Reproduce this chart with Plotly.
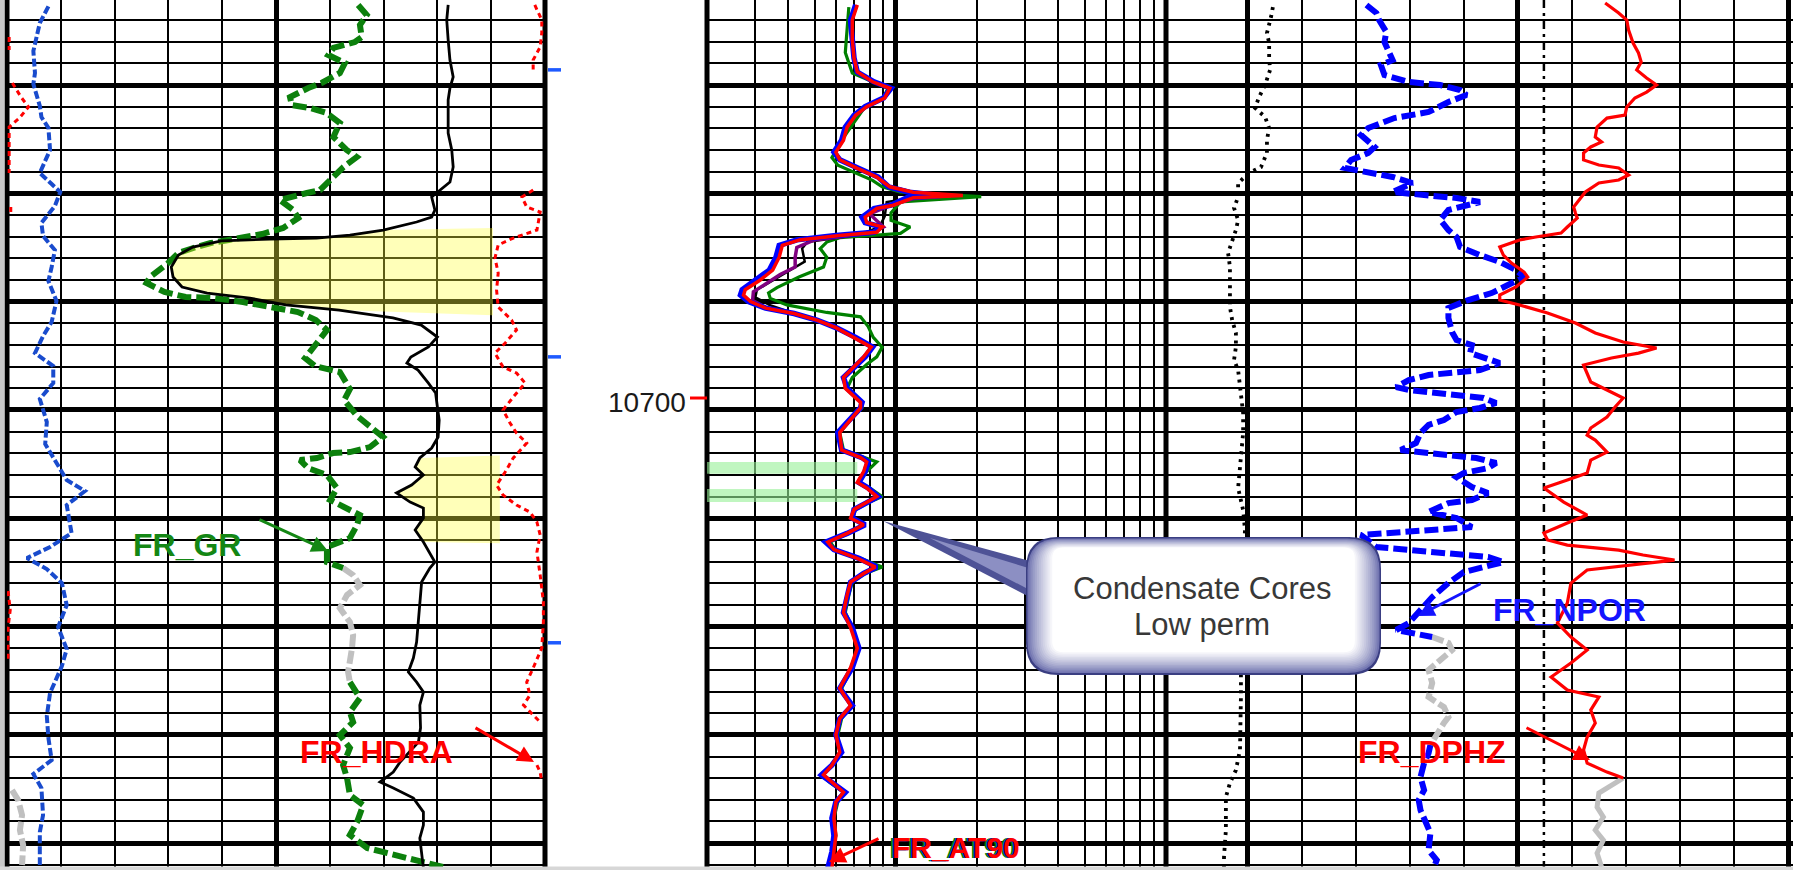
import math
import numpy as np
import plotly.graph_objects as go

W, H = 1793, 870

# ---------------- depth frame ----------------
depth_top, depth_base = 10663.25, 10743.58
grid_major_start = 10701.1          # heavy depth line every 10 ft, light every 2 ft
depth_labels = [10700]
core_marks = [10669.7, 10696.2, 10722.6]

# core intervals (green bands in resistivity track)
core_tops = [10705.9, 10708.4]
core_bases = [10707.0, 10709.6]
core_band_right = [7.2, 7.2]        # ohm.m
res_min, res_max = 2, 100

# sand intervals (yellow shading against SP)
sand_tops = [10684.3, 10705.3]
sand_bases = [10692.35, 10713.4]
sand_cutoff_sp = [35.5, 37.4]       # mV

# ---------------- track 1 curves ----------------
cali_depth = [10663.84, 10665.37, 10667.96, 10669.99, 10671.01, 10673.04, 10674.05, 10675.07, 10677.10, 10679.22,
              10680.24, 10680.98, 10682.27, 10683.84, 10685.04, 10686.34, 10687.90, 10689.20, 10691.04, 10692.98,
              10694.28, 10695.85, 10697.05, 10698.62, 10700.09, 10702.22, 10704.25, 10705.82, 10707.57, 10708.59,
              10709.88, 10712.47, 10713.76, 10714.78, 10715.79, 10717.08, 10719.12, 10721.15, 10723.18, 10724.75,
              10727.24, 10729.37, 10731.40, 10733.43, 10734.72, 10736.01, 10738.51, 10740.08, 10743.12]
cali_in = [6.77, 6.61, 6.49, 6.52, 6.49, 6.61, 6.64, 6.77, 6.80, 6.61,
           6.83, 6.99, 6.89, 6.64, 6.67, 6.89, 6.83, 6.77, 6.92, 6.83,
           6.67, 6.52, 6.86, 6.86, 6.61, 6.74, 6.71, 6.89, 7.11, 7.45,
           7.11, 7.20, 6.80, 6.37, 6.74, 7.02, 7.11, 6.95, 7.11, 7.02,
           6.80, 6.74, 6.77, 6.83, 6.49, 6.64, 6.67, 6.61, 6.61]

hdra_depth = [10663.71, 10665.10, 10666.30, 10667.59, 10668.79, 10669.90, None, 10680.80, 10681.44, 10682.36,
              10682.83, 10684.49, 10684.95, 10685.23, 10685.87, 10687.07, 10688.46, 10690.03, 10691.60, 10692.80,
              10693.72, 10694.92, 10695.85, 10697.14, 10697.69, 10698.62, 10699.91, 10701.11, 10702.31, 10703.23,
              10704.16, 10705.54, 10706.83, 10708.04, 10708.96, 10709.88, 10710.53, 10711.45, 10712.65, 10714.22,
              10716.35, 10718.84, 10720.69, 10723.09, 10724.93, 10726.23, 10727.43, 10728.35, 10729.27, 10729.92,
              None, 10733.89, 10734.54, 10735.46]
hdra_gcc = [0.231, 0.244, 0.244, 0.241, 0.228, 0.228, None, 0.228, 0.207, 0.216,
            0.241, 0.235, 0.210, 0.191, 0.163, 0.157, 0.163, 0.160, 0.163, 0.188,
            0.197, 0.176, 0.157, 0.172, 0.197, 0.213, 0.191, 0.172, 0.185, 0.197,
            0.216, 0.191, 0.176, 0.160, 0.172, 0.197, 0.222, 0.235, 0.241, 0.235,
            0.241, 0.247, 0.247, 0.244, 0.228, 0.216, 0.222, 0.210, 0.228, 0.241,
            None, 0.235, 0.241, 0.244]
hdra_wrap_depth = [10666.67, 10667.87, None, 10670.91, 10672.21, 10673.13, 10674.15, 10674.98, 10676.18, 10677.38,
                   10679.22, None, 10682.36, 10683.10, None, 10717.82, 10719.58, 10721.15, 10722.63, 10724.19]
hdra_wrap_gcc = [0.254, 0.254, None, 0.260, 0.276, 0.290, 0.273, 0.254, 0.254, 0.254,
                 0.254, None, 0.257, 0.257, None, 0.252, 0.256, 0.252, 0.252, 0.252]

gr_depth = [10663.71, 10664.64, 10665.56, 10666.67, 10667.13, 10667.68, 10668.33, 10669.07, 10669.99, 10670.91,
            10671.38, 10672.21, 10672.95, 10673.22, 10673.68, 10674.61, 10675.90, 10677.10, 10677.75, 10678.67,
            10679.59, 10680.79, 10681.07, 10681.72, 10682.64, 10683.38, 10684.30, 10684.86, 10685.41, 10685.69,
            10686.06, 10686.61, 10687.54, 10688.83, 10689.38, 10690.21, 10690.67, 10690.77, 10691.14, 10691.60,
            10692.06, 10692.80, 10693.72, 10694.92, 10696.31, 10697.05, 10697.60, 10699.17, 10700.19, 10701.66,
            10702.68, 10703.60, 10704.53, 10704.99, 10705.08, 10705.54, 10705.73, 10706.47, 10707.11, 10708.31,
            10709.42, 10710.07, 10710.81, 10711.73, 10712.93, 10713.76, 10715.15, 10715.70, None, 10726.23,
            10727.70, 10729.00, 10729.92, 10731.12, 10732.32, 10733.89, 10735.09, 10736.66, 10737.58, 10739.15,
            10740.35, 10741.55, 10741.92, 10742.38, 10742.85, 10743.31]
gr_api = [97.9, 100.3, 98.4, 98.9, 97.0, 91.0, 89.6, 94.2, 92.8, 87.7,
          84.0, 78.9, 79.4, 84.5, 89.1, 92.8, 91.0, 94.7, 97.5, 93.8,
          91.0, 87.3, 83.6, 76.1, 79.8, 81.2, 77.0, 71.1, 61.8, 56.8,
          52.8, 47.8, 44.9, 39.9, 38.9, 43.9, 49.8, 57.8, 65.8, 73.7,
          81.1, 86.1, 89.2, 86.4, 83.1, 85.9, 92.8, 95.6, 94.0, 97.6,
          101.5, 104.8, 101.2, 95.6, 90.9, 86.4, 81.7, 83.9, 89.2, 92.0,
          90.1, 93.7, 98.4, 97.6, 95.6, 89.2, 89.2, 93.7, None, 95.6,
          98.4, 95.6, 96.5, 92.8, 95.6, 93.7, 94.8, 95.6, 99.3, 97.6,
          95.6, 100.4, 104.8, 110.4, 115.1, 121.6]
gr_repeat_depth = [10715.70, 10716.35, 10717.27, 10718.19, 10719.39, 10720.69, 10721.89, 10723.09, 10725.30, 10726.23,
                   None, 10736.20, 10737.12, 10738.51, 10739.89, 10741.28, 10743.12]
gr_repeat_api = [93.7, 96.5, 98.4, 94.8, 92.8, 95.6, 96.5, 96.2, 95.1, 95.6,
                 None, 1.4, 3.1, 4.2, 3.6, 4.5, 4.2]

sp_depth = [10663.71, 10665.10, 10666.94, 10668.79, 10670.36, 10671.38, 10672.48, 10674.05, 10675.53, 10677.10,
            10678.67, 10680.06, 10680.79, 10681.44, 10682.64, 10683.29, 10683.75, 10684.49, 10684.95, 10685.23,
            10685.32, 10685.50, 10686.06, 10686.80, 10687.90, 10688.83, 10689.75, 10690.31, 10690.77, 10691.41,
            10691.88, 10692.61, 10693.26, 10694.37, 10695.29, 10696.21, 10696.77, 10697.42, 10698.62, 10699.54,
            10700.83, 10702.03, 10703.60, 10704.62, 10705.54, 10706.37, 10707.11, 10708.04, 10708.77, 10709.61,
            10710.16, 10711.08, 10712.19, 10713.30, 10715.15, 10715.70, 10716.99, 10718.84, 10720.69, 10722.53,
            10724.01, 10725.30, 10726.23, 10727.15, 10728.35, 10730.47, 10731.77, 10733.61, 10734.54, 10735.46,
            10736.01, 10736.94, 10738.23, 10739.43, 10740.63, 10741.92, 10743.40]
sp_mv = [23.0, 22.6, 23.0, 23.5, 24.4, 23.5, 23.0, 23.0, 23.0, 24.0,
         24.4, 23.5, 20.7, 18.4, 19.3, 18.4, 14.2, 4.9, -4.4, -13.7,
         -26.7, -40.2, -48.2, -52.2, -54.2, -53.7, -51.2, -44.2, -32.3, -22.3,
         -7.4, 7.6, 15.5, 20.0, 17.5, 12.6, 11.5, 14.6, 17.5, 19.5,
         20.0, 20.5, 20.2, 18.4, 15.1, 13.8, 16.1, 12.8, 8.6, 12.4,
         16.1, 16.1, 13.8, 16.1, 19.3, 17.9, 15.6, 15.1, 14.7, 14.2,
         13.3, 11.9, 14.2, 16.1, 15.1, 15.3, 14.7, 9.6, 7.7, 4.0,
         7.7, 13.3, 16.1, 16.1, 15.1, 15.6, 16.1]

# ---------------- track 2: resistivity ----------------
at_depth = [10663.7, 10665.1, 10666.9, 10668.6, 10669.9, 10670.8, 10671.4, 10672.3, 10673.1, 10673.9,
            10675.0, 10676.2, 10677.3, 10678.0, 10678.8, 10679.6, 10680.5, 10681.0, 10681.3, 10681.5,
            10682.2, 10682.5, 10683.3, 10683.8, 10684.2, 10684.7, 10685.0, 10685.4, 10685.9, 10687.0,
            10688.2, 10689.1, 10690.0, 10690.5, 10691.1, 10691.7, 10692.2, 10692.8, 10693.5, 10694.4,
            10695.3, 10696.2, 10697.1, 10698.1, 10699.1, 10700.4, 10700.9, 10701.8, 10703.2, 10704.8,
            10705.5, 10705.9, 10706.8, 10707.8, 10708.3, 10709.1, 10709.6, 10710.3, 10711.1, 10711.7,
            10712.5, 10713.3, 10714.0, 10714.8, 10715.6, 10716.2, 10717.0, 10718.2, 10719.8, 10721.2,
            10723.1, 10724.9, 10726.8, 10728.4, 10729.6, 10731.1, 10732.7, 10733.9, 10734.8, 10735.5,
            10736.4, 10737.3, 10738.8, 10740.4, 10741.9, 10743.4]
at90 = [7.2, 6.9, 6.9, 7.0, 7.2, 8.2, 9.5, 9.1, 7.8, 7.1,
        6.6, 6.4, 6.0, 6.2, 7.2, 8.5, 9.5, 11.6, 17.7, 11.6,
        9.8, 8.5, 7.7, 7.8, 8.9, 8.5, 6.2, 4.4, 3.8, 3.7,
        3.5, 3.15, 2.77, 2.73, 2.9, 3.3, 4.2, 5.1, 6.0, 7.0,
        8.1, 7.6, 7.0, 6.4, 6.5, 7.4, 7.4, 6.9, 6.2, 6.3,
        7.4, 7.8, 7.6, 7.2, 7.8, 8.5, 7.8, 7.0, 6.8, 7.6,
        6.6, 5.6, 5.9, 7.2, 8.4, 7.6, 6.8, 6.6, 6.4, 6.8,
        7.2, 6.8, 6.2, 6.8, 6.2, 6.0, 6.2, 5.8, 5.4, 5.8,
        6.4, 6.0, 5.9, 6.0, 5.9, 5.8]
at60 = [7.1, 6.8, 6.9, 7.0, 7.2, 8.3, 9.6, 9.0, 7.7, 7.0,
        6.5, 6.3, 5.9, 6.2, 7.3, 8.6, 9.4, 11.2, 14.5, 11.0,
        9.6, 8.3, 7.5, 7.7, 8.8, 8.3, 6.0, 4.3, 3.7, 3.6,
        3.4, 3.05, 2.70, 2.66, 2.85, 3.3, 4.2, 5.1, 6.0, 7.1,
        8.2, 7.7, 7.0, 6.4, 6.6, 7.5, 7.4, 6.9, 6.1, 6.3,
        7.5, 7.9, 7.7, 7.3, 7.9, 8.6, 7.9, 7.0, 6.9, 7.7,
        6.6, 5.5, 5.9, 7.3, 8.5, 7.6, 6.8, 6.6, 6.4, 6.9,
        7.3, 6.9, 6.2, 6.9, 6.2, 6.0, 6.3, 5.8, 5.3, 5.8,
        6.5, 6.0, 5.8, 5.9, 5.8, 5.6]
at10_depth = [10663.9, 10666.0, 10668.1, 10670.0, 10670.8, 10671.4, 10672.3, 10673.1, 10675.0, 10676.2,
              10677.8, 10678.5, 10679.9, 10680.5, 10681.0, 10681.4, 10681.9, 10682.9, 10683.6, 10684.2,
              10684.8, 10685.2, 10685.6, 10686.2, 10687.0, 10687.9, 10688.8, 10689.8, 10690.3, 10690.8,
              10691.4, 10692.1, 10692.5, 10693.4, 10694.4, 10695.3, 10696.2, 10696.9, 10698.1, 10699.1,
              10700.4, 10700.9, 10701.8, 10703.2, 10704.8, 10705.5, 10705.9, 10706.8, 10707.8, 10708.3,
              10709.1, 10709.6, 10710.3, 10711.1, 10711.7, 10712.5, 10713.3, 10714.0, 10714.8, 10715.6,
              10716.2, 10717.0, 10718.2, 10719.8, 10721.2, 10723.1, 10724.9, 10726.8, 10728.4, 10729.6,
              10731.1, 10732.7, 10733.9, 10734.8, 10735.5, 10736.4, 10737.3, 10738.8, 10740.4, 10741.9, 10743.4]
at10 = [6.7, 6.6, 6.5, 6.9, 8.2, 9.35, 9.0, 7.7, 6.8, 6.3,
        5.8, 6.1, 8.2, 8.9, 10.4, 20.7, 10.4, 9.6, 9.6, 11.3,
        10.4, 6.2, 5.55, 5.25, 5.55, 5.4, 4.4, 3.63, 3.38, 3.43,
        3.95, 5.55, 7.4, 7.9, 8.25, 8.9, 8.5, 7.8, 6.9, 6.6,
        7.5, 7.5, 6.9, 6.2, 6.4, 7.6, 8.5, 7.8, 7.3, 8.0,
        8.9, 8.0, 7.1, 6.9, 7.7, 6.7, 5.7, 6.0, 7.4, 8.9,
        7.7, 6.9, 6.7, 6.5, 6.9, 7.3, 6.9, 6.3, 6.8, 6.3,
        6.1, 6.2, 5.8, 5.3, 5.7, 6.4, 6.1, 5.9, 6.0, 5.8, 5.6]
at20_depth = [10679.6, 10680.5, 10681.0, 10681.3, 10681.6, 10681.9, 10683.2, 10684.2, 10684.9, 10685.6,
              10686.2, 10687.4, 10688.2, 10689.1, 10690.0, 10690.7, 10691.4, 10692.2]
at20 = [8.5, 9.5, 11.0, 15.5, 11.0, 9.25, 9.1, 8.7, 7.4, 4.7,
        4.5, 4.6, 4.06, 3.52, 3.06, 3.02, 3.4, 4.2]
at30_depth = [10680.5, 10681.0, 10681.3, 10681.6, 10682.2, 10683.0, 10684.2, 10684.8, 10685.4, 10686.1,
              10687.0, 10687.9, 10688.6, 10689.6, 10690.2, 10691.0, 10691.8]
at30 = [9.5, 11.5, 16.0, 11.5, 9.6, 8.0, 9.0, 8.0, 5.0, 4.30,
        4.24, 4.24, 3.73, 3.23, 2.97, 2.95, 3.4]

# ---------------- track 3: porosity / PE ----------------
pef_depth = [10663.90, 10664.82, 10666.30, 10667.22, 10668.61, 10669.71, 10671.10, 10672.21, 10673.22, 10674.05,
             10675.07, 10676.18, 10677.38, 10678.67, 10679.22, 10680.15, 10681.44, 10682.46, 10683.56, 10684.49,
             10686.61, 10687.90, 10689.11, 10690.31, 10691.60, 10692.80, 10694.00, 10695.29, 10696.49, 10697.42,
             10698.99, 10699.91, 10701.39, 10703.23, 10706.00, 10708.31, 10710.34, 10712.19, 10715.24, 10718.38,
             10727.61, 10730.01, 10732.50, 10734.35, 10735.55, 10736.85, 10738.32, 10739.89, 10742.38, 10743.31]
pef = [3.41, 3.35, 3.22, 3.29, 3.29, 3.32, 3.16, 2.97, 2.84, 3.16,
       3.29, 3.22, 3.22, 3.03, 2.65, 2.30, 2.30, 2.17, 2.30, 2.23,
       1.98, 2.04, 2.04, 2.04, 2.04, 2.11, 2.23, 2.23, 2.17, 2.30,
       2.36, 2.39, 2.46, 2.46, 2.36, 2.30, 2.46, 2.52, 2.46, 2.39,
       2.39, 2.39, 2.36, 2.23, 2.04, 1.91, 1.91, 1.91, 1.85, 1.85]
cutoff_depth = [10663.25, 10743.58]
por_cutoff = [0.121, 0.121]

npor_depth = [10663.71, 10664.45, 10665.10, 10666.20, 10667.13, 10668.14, 10668.79, 10669.25, 10670.18, 10670.82,
              10671.10, 10671.56, 10672.02, 10672.67, 10673.59, 10674.15, 10675.07, 10675.72, 10676.82, 10677.38,
              10678.02, 10678.76, 10679.13, 10679.59, 10680.15, 10680.98, 10681.26, 10681.53, 10681.90, 10682.64,
              10683.56, 10684.49, 10685.13, 10686.06, 10686.80, 10687.44, 10688.18, 10688.83, 10689.57, 10690.31,
              10690.95, 10691.69, 10692.61, 10693.91, 10694.65, 10695.11, 10695.85, 10696.49, 10696.77, 10697.42,
              10697.60, 10697.88, 10698.34, 10698.99, 10699.26, 10699.54, 10699.72, 10700.00, 10700.46, 10700.92,
              10701.29, 10702.03, 10702.49, 10703.23, 10704.16, 10704.80, 10705.08, 10705.27, 10705.54, 10706.00,
              10706.47, 10706.93, 10707.30, 10708.22, 10708.77, 10709.42, 10709.70, 10710.53, 10711.08, 10711.91,
              10712.10, 10712.38, 10712.65, 10713.76, 10714.04, 10714.32, 10714.68, 10715.15, 10715.61, 10716.07,
              10717.08, 10718.38, 10719.58, 10720.78, 10721.42, 10721.70, 10722.07, None, 10732.04, 10732.78,
              10733.71, 10735.00, 10736.20, 10737.12, 10738.05, 10739.25, 10740.17, 10741.74, 10742.66, 10743.31]
npor = [0.318, 0.307, 0.304, 0.296, 0.298, 0.293, 0.289, 0.302, 0.298, 0.271,
        0.236, 0.214, 0.207, 0.227, 0.249, 0.287, 0.316, 0.324, 0.309, 0.316,
        0.335, 0.342, 0.320, 0.289, 0.267, 0.289, 0.254, 0.218, 0.192, 0.227,
        0.236, 0.227, 0.218, 0.214, 0.192, 0.170, 0.152, 0.143, 0.161, 0.179,
        0.205, 0.227, 0.227, 0.223, 0.218, 0.201, 0.203, 0.183, 0.170, 0.192,
        0.218, 0.249, 0.271, 0.285, 0.271, 0.240, 0.210, 0.188, 0.174, 0.192,
        0.218, 0.232, 0.249, 0.258, 0.263, 0.280, 0.249, 0.227, 0.196, 0.174,
        0.183, 0.210, 0.218, 0.201, 0.183, 0.201, 0.227, 0.249, 0.218, 0.201,
        0.236, 0.271, 0.324, 0.307, 0.263, 0.218, 0.183, 0.166, 0.188, 0.210,
        0.227, 0.245, 0.258, 0.271, 0.285, 0.267, 0.245, None, 0.247, 0.249,
        0.254, 0.258, 0.254, 0.260, 0.258, 0.251, 0.247, 0.249, 0.240, 0.243]
npor_repeat_depth = [10722.07, 10722.62, 10723.27, 10724.19, 10725.12, 10726.32, 10727.61, 10728.54, 10729.46,
                     10730.01, 10730.93, 10732.04]
npor_repeat = [0.245, 0.227, 0.223, 0.236, 0.249, 0.245, 0.249, 0.232, 0.227, 0.232, 0.238, 0.247]

dphz_depth = [10663.53, 10664.45, 10665.10, 10666.02, 10667.22, 10668.14, 10668.98, 10669.71, 10670.45, 10671.10,
              10671.75, 10672.30, 10673.13, 10673.87, 10674.15, 10674.98, 10675.90, 10676.36, 10676.82, 10677.38,
              10678.02, 10678.49, 10678.76, 10679.41, 10679.87, 10680.15, 10680.98, 10681.72, 10682.36, 10682.92,
              10683.38, 10684.21, 10684.77, 10685.13, 10685.41, 10686.06, 10686.80, 10687.54, 10688.37, 10688.83,
              10689.75, 10690.49, 10690.95, 10691.41, 10692.15, 10693.08, 10694.00, 10694.83, 10695.38, 10695.85,
              10696.31, 10696.95, 10697.69, 10698.52, 10699.26, 10700.00, 10700.83, 10701.76, 10702.77, 10703.42,
              10703.88, 10704.99, 10705.73, 10706.93, 10707.57, 10708.31, 10709.61, 10710.81, 10711.54, 10712.47,
              10713.11, 10713.58, 10714.04, 10714.50, 10714.96, 10715.42, 10715.88, 10717.08, 10718.93, 10720.78,
              10722.07, 10723.27, 10724.47, 10725.76, 10726.96, 10727.61, 10728.81, 10730.01, 10731.31, 10732.50,
              10733.71, 10734.54, 10735.09]
dphz = [0.053, 0.038, 0.029, 0.027, 0.022, 0.016, 0.013, 0.018, 0.007, -0.004,
        0.007, 0.020, 0.029, 0.031, 0.051, 0.062, 0.064, 0.057, 0.069, 0.077,
        0.077, 0.060, 0.038, 0.027, 0.038, 0.060, 0.075, 0.082, 0.088, 0.086,
        0.084, 0.095, 0.102, 0.130, 0.148, 0.170, 0.166, 0.157, 0.143, 0.139,
        0.152, 0.170, 0.170, 0.148, 0.117, 0.086, 0.064, 0.033, -0.004, 0.016,
        0.046, 0.077, 0.073, 0.069, 0.051, 0.033, 0.042, 0.051, 0.069, 0.073,
        0.064, 0.051, 0.069, 0.073, 0.095, 0.121, 0.099, 0.073, 0.095, 0.121,
        0.117, 0.095, 0.038, 0.011, -0.024, 0.024, 0.073, 0.091, 0.095, 0.106,
        0.091, 0.073, 0.091, 0.113, 0.095, 0.060, 0.069, 0.064, 0.073, 0.077,
        0.073, 0.051, 0.033]
dphz_repeat_depth = [10735.09, 10735.55, 10736.47, 10737.77, 10738.69, 10739.89, 10740.82, 10742.02, 10743.31]
dphz_repeat = [0.033, 0.042, 0.060, 0.062, 0.055, 0.064, 0.055, 0.062, 0.057]

pairs = [(cali_depth, cali_in), (hdra_depth, hdra_gcc), (hdra_wrap_depth, hdra_wrap_gcc), (gr_depth, gr_api),
         (gr_repeat_depth, gr_repeat_api), (sp_depth, sp_mv), (at_depth, at90), (at_depth, at60), (at10_depth, at10),
         (at20_depth, at20), (at30_depth, at30), (pef_depth, pef), (npor_depth, npor),
         (npor_repeat_depth, npor_repeat), (dphz_depth, dphz), (dphz_repeat_depth, dphz_repeat)]
for i, (a, b) in enumerate(pairs):
    assert len(a) == len(b), (i, len(a), len(b))

# ---------------- figure ----------------
fig = go.Figure()


def line_trace(x, y, xa, ya, color, width, dash=None):
    return go.Scatter(x=x, y=y, xaxis=xa, yaxis=ya, mode='lines', hoverinfo='skip',
                      line=dict(color=color, width=width, dash=dash), connectgaps=False)


# track 1
fig.add_trace(line_trace(gr_repeat_api, gr_repeat_depth, 'x', 'y', 'rgb(192,192,192)', 6, '13px,4px'))
fig.add_trace(line_trace(gr_api, gr_depth, 'x', 'y', 'rgb(12,128,12)', 6, '14px,5px'))
sp_d = np.array(sp_depth)
sp_v = np.array(sp_mv)
for top, base, cut in zip(sand_tops, sand_bases, sand_cutoff_sp):
    m = (sp_d >= top) & (sp_d <= base)
    xs = [cut] + list(sp_v[m]) + [cut]
    ys = [top] + list(sp_d[m]) + [base]
    fig.add_trace(go.Scatter(x=xs, y=ys, xaxis='x2', yaxis='y', mode='lines', fill='toself',
                             fillcolor='rgba(255,255,60,0.36)', line=dict(width=0, color='rgba(0,0,0,0)'),
                             hoverinfo='skip'))
fig.add_trace(line_trace(sp_mv, sp_depth, 'x2', 'y', 'black', 2.8))
fig.add_trace(line_trace(cali_in, cali_depth, 'x3', 'y', 'rgb(25,75,205)', 4, '8px,3px'))
fig.add_trace(line_trace(hdra_gcc, hdra_depth, 'x4', 'y', 'rgb(255,0,0)', 3, '5px,4px'))
fig.add_trace(line_trace(hdra_wrap_gcc, hdra_wrap_depth, 'x5', 'y', 'rgb(255,0,0)', 3, '5px,4px'))

# track 2
for t, b, r in zip(core_tops, core_bases, core_band_right):
    fig.add_trace(go.Scatter(x=[res_min, r, r, res_min], y=[t, t, b, b], xaxis='x6', yaxis='y2', mode='lines',
                             fill='toself', fillcolor='rgba(150,240,150,0.6)',
                             line=dict(width=0, color='rgba(0,0,0,0)'), hoverinfo='skip'))
fig.add_trace(line_trace(at10, at10_depth, 'x6', 'y2', 'rgb(0,128,0)', 3.2))
fig.add_trace(line_trace(at20, at20_depth, 'x6', 'y2', 'black', 2.5))
fig.add_trace(line_trace(at30, at30_depth, 'x6', 'y2', 'rgb(128,0,128)', 3.5))
fig.add_trace(line_trace(at60, at_depth, 'x6', 'y2', 'rgb(0,0,255)', 5.5))
fig.add_trace(line_trace(at90, at_depth, 'x6', 'y2', 'rgb(255,0,0)', 3.5))

# track 3
fig.add_trace(line_trace(por_cutoff, cutoff_depth, 'x7', 'y3', 'black', 2.5, '8px,5px,3px,5px'))
fig.add_trace(line_trace(npor_repeat, npor_repeat_depth, 'x7', 'y3', 'rgb(192,192,192)', 6, '12px,4px'))
fig.add_trace(line_trace(npor, npor_depth, 'x7', 'y3', 'rgb(0,0,255)', 6, '14px,5px'))
fig.add_trace(line_trace(dphz_repeat, dphz_repeat_depth, 'x7', 'y3', 'rgb(192,192,192)', 5))
fig.add_trace(line_trace(dphz, dphz_depth, 'x7', 'y3', 'rgb(255,0,0)', 3.2))
fig.add_trace(line_trace(pef, pef_depth, 'x8', 'y3', 'black', 3.8, '3px,5px'))

# ---------------- axes ----------------
minor_y = dict(tickmode='linear', tick0=grid_major_start, dtick=2, showgrid=True, gridcolor='black', gridwidth=2)
yax = dict(range=[depth_base, depth_top], tickmode='linear', tick0=grid_major_start, dtick=10,
           showgrid=True, gridcolor='black', gridwidth=5, showticklabels=False, ticks='',
           zeroline=False, showline=False, minor=minor_y, domain=[0, 1], fixedrange=True)


def hidden(over, rng, anchor, typ='linear'):
    return dict(overlaying=over, range=rng, anchor=anchor, visible=False, type=typ,
                showgrid=False, zeroline=False, fixedrange=True)


def grid_x(domain, rng, anchor, major, minor, typ='linear'):
    return dict(domain=domain, range=rng, anchor=anchor, type=typ, tickmode='array', tickvals=major,
                showgrid=True, gridcolor='black', gridwidth=5, showticklabels=False, ticks='',
                zeroline=False, showline=False, fixedrange=True,
                minor=dict(tickmode='array', tickvals=minor, showgrid=True, gridcolor='black', gridwidth=2))


fig.update_layout(
    width=W, height=H, autosize=False,
    margin=dict(l=0, r=0, t=0, b=0, pad=0),
    paper_bgcolor='white', plot_bgcolor='white', showlegend=False,
    font=dict(family='Liberation Sans, Arial, sans-serif'),
    xaxis=grid_x([7 / W, 545 / W], [0, 150], 'y', [75], [15, 30, 45, 60, 90, 105, 120, 135]),
    xaxis2=hidden('x', [-100, 50], 'y'),
    xaxis3=hidden('x', [6, 16], 'y'),
    xaxis4=hidden('x', [-0.75, 0.25], 'y'),
    xaxis5=hidden('x', [0.25, 1.25], 'y'),
    xaxis6=grid_x([707 / W, 1166 / W], [math.log10(res_min), math.log10(res_max)], 'y2', [10],
                  [3, 4, 5, 6, 7, 8, 9, 20, 30, 40, 50, 60, 70, 80, 90], typ='log'),
    xaxis7=grid_x([1166 / W, 1.0], [0.5405, -0.1555], 'y3', [0.45, 0.15, -0.15],
                  [0.39, 0.33, 0.27, 0.21, 0.09, 0.03, -0.03, -0.09]),
    xaxis8=hidden('x7', [0, 20], 'y3'),
    yaxis=dict(anchor='x', **yax),
    yaxis2=dict(anchor='x6', matches='y', **yax),
    yaxis3=dict(anchor='x7', matches='y', **yax),
)


def P(x):
    return x / W


def Q(y):
    return 1 - y / H


shapes = []
# track borders
for xb in [7, 545, 707, 1166]:
    shapes.append(dict(type='line', xref='paper', yref='paper', x0=P(xb), x1=P(xb), y0=0, y1=1,
                       line=dict(color='black', width=5), layer='below'))
# depth marker ticks
for d in depth_labels:
    shapes.append(dict(type='line', xref='paper', yref='y', x0=P(690), x1=P(707), y0=d, y1=d,
                       line=dict(color='red', width=3)))
for d in core_marks:
    shapes.append(dict(type='line', xref='paper', yref='y', x0=P(548), x1=P(561), y0=d, y1=d,
                       line=dict(color='rgb(30,90,255)', width=3.5)))
# screen edges
shapes.append(dict(type='rect', xref='paper', yref='paper', x0=0, x1=P(4.5), y0=0, y1=1,
                   fillcolor='rgb(200,200,200)', line=dict(width=0), layer='above'))
shapes.append(dict(type='rect', xref='paper', yref='paper', x0=0, x1=1, y0=0, y1=Q(866.5),
                   fillcolor='rgb(215,215,215)', line=dict(width=0), layer='above'))


def poly(points):
    s = 'M ' + ' L '.join(f'{P(x):.5f},{Q(y):.5f}' for x, y in points) + ' Z'
    return s


def rrect(x0, y0, x1, y1, r):
    def pt(x, y):
        return f'{P(x):.5f},{Q(y):.5f}'
    return (f'M {pt(x0 + r, y0)} L {pt(x1 - r, y0)} Q {pt(x1, y0)} {pt(x1, y0 + r)} '
            f'L {pt(x1, y1 - r)} Q {pt(x1, y1)} {pt(x1 - r, y1)} L {pt(x0 + r, y1)} '
            f'Q {pt(x0, y1)} {pt(x0, y1 - r)} L {pt(x0, y0 + r)} Q {pt(x0, y0)} {pt(x0 + r, y0)} Z')


# callout pointer
shapes.append(dict(type='path', xref='paper', yref='paper', path=poly([(883, 521), (1045, 565), (1045, 605)]),
                   fillcolor='rgb(78,82,150)', line=dict(width=0), layer='above'))
shapes.append(dict(type='path', xref='paper', yref='paper', path=poly([(930, 538), (1045, 573), (1045, 598)]),
                   fillcolor='rgb(140,143,195)', line=dict(width=0), layer='above'))
# callout box (layered gradient)
bx0, by0, bx1, by1, br = 1026, 537, 1381, 675, 32
shapes.append(dict(type='path', xref='paper', yref='paper', path=rrect(bx0, by0, bx1, by1, br),
                   fillcolor='rgb(58,62,130)', line=dict(width=0), layer='above'))
n = 14
for i in range(n):
    t = (i + 1) / n
    c0 = np.array([92, 96, 165])
    col = c0 + (np.array([255, 255, 255]) - c0) * (t ** 0.75)
    il, it, ib = 1.5 + i * 1.9, 1.5 + i * 0.7, 2.0 + i * 1.6
    shapes.append(dict(type='path', xref='paper', yref='paper',
                       path=rrect(bx0 + il, by0 + it, bx1 - il, by1 - ib, max(br - i * 1.6, 8)),
                       fillcolor='rgb(%d,%d,%d)' % tuple(int(v) for v in col), line=dict(width=0),
                       layer='above'))

annotations = []
for d in depth_labels:
    annotations.append(dict(text=str(d), xref='paper', yref='y', x=P(647), y=d, yshift=-4,
                            showarrow=False, font=dict(size=28, color='#1a1a1a'),
                            xanchor='center', yanchor='middle'))

curve_labels = [
    ('FR_GR', 'rgb(20,135,20)', 186.5, 544.5, (328, 551), (258, 519)),
    ('FR_HDRA', 'rgb(255,0,0)', 376.5, 752, (534, 762), (474, 727)),
    ('FR_NPOR', 'rgb(20,20,255)', 1569.5, 610, (1418, 616), (1482, 583)),
    ('FR_DPHZ', 'rgb(255,0,0)', 1431.5, 752, (1590, 760), (1525, 727)),
]
for text, col, cx, cy, head, tail in curve_labels:
    annotations.append(dict(text='<b>%s</b>' % text, xref='paper', yref='paper', x=P(cx), y=Q(cy),
                            showarrow=False, font=dict(size=32, color=col), xanchor='center', yanchor='middle'))
    annotations.append(dict(text='', xref='paper', yref='paper', x=P(head[0]), y=Q(head[1]),
                            ax=tail[0] - head[0], ay=tail[1] - head[1], axref='pixel', ayref='pixel',
                            showarrow=True, arrowhead=2, arrowsize=1.1, arrowwidth=3, arrowcolor=col))

# FR_AT90 label: kept fully inside the frame, just above the bottom edge
for col, dx in [('rgb(0,128,0)', -3), ('rgb(0,0,255)', -1.5), ('rgb(255,0,0)', 0)]:
    annotations.append(dict(text='<b>FR_AT90</b>', xref='paper', yref='paper', x=P(956 + dx), y=Q(866),
                            showarrow=False, font=dict(size=30, color=col), xanchor='center', yanchor='bottom'))
annotations.append(dict(text='', xref='paper', yref='paper', x=P(829), y=Q(862), ax=51, ay=-24,
                        axref='pixel', ayref='pixel', showarrow=True, arrowhead=2, arrowsize=1.1,
                        arrowwidth=3, arrowcolor='rgb(255,0,0)'))

annotations.append(dict(text='Condensate Cores', xref='paper', yref='paper', x=P(1202), y=Q(588),
                        showarrow=False, font=dict(size=31, color='#383838'), xanchor='center', yanchor='middle'))
annotations.append(dict(text='Low perm', xref='paper', yref='paper', x=P(1202), y=Q(624),
                        showarrow=False, font=dict(size=31, color='#383838'), xanchor='center', yanchor='middle'))

fig.update_layout(shapes=shapes, annotations=annotations)

fig.write_html("out.html", include_plotlyjs=True, full_html=True,
               config={'displayModeBar': False, 'staticPlot': True},
               post_script="document.body.style.margin='0';document.body.style.overflow='hidden';")
